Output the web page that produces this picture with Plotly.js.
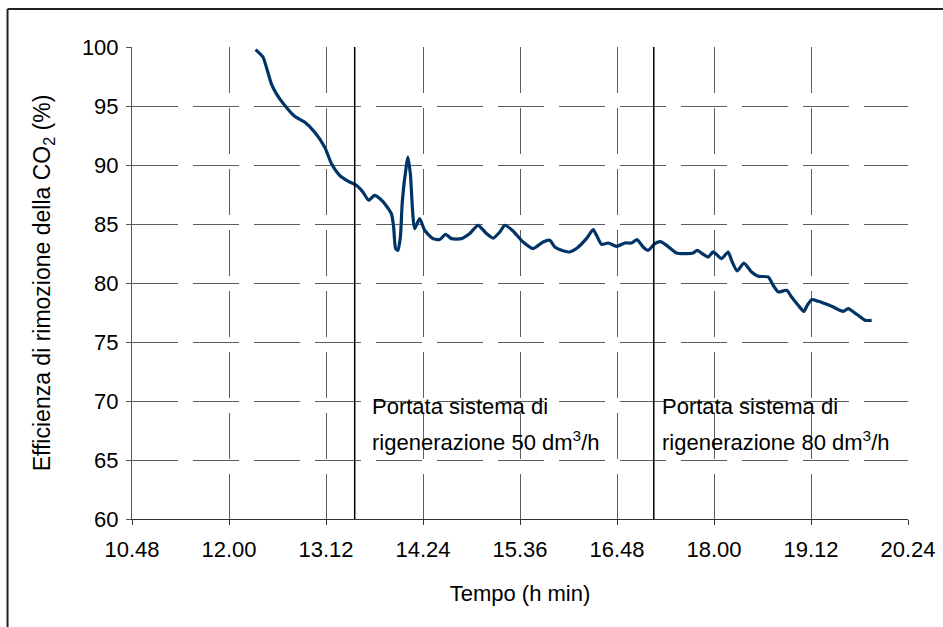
<!DOCTYPE html>
<html>
<head>
<meta charset="utf-8">
<script src="https://cdn.plot.ly/plotly-3.0.1.min.js"></script>
<style>
  html, body { margin: 0; padding: 0; background: #ffffff; }
  #chart { width: 943px; height: 627px; }
</style>
</head>
<body>
<div id="chart"></div>
<script>
// ---- data (time in minutes since midnight, efficiency in %) ----
const timeMin = [
  739.7, 745.2, 748.4, 751.4, 755.1, 761.3, 768.7, 776.1, 783.5, 791.0,
  796.0, 802.1, 808.3, 814.5, 819.4, 823.7, 828.1, 834.3, 840.5, 842.2,
  843.7, 845.4, 847.2, 848.7, 851.7, 852.8, 854.6, 857.8, 861.5, 865.2,
  871.4, 876.4, 880.8, 885.1, 892.5, 898.7, 904.8, 911.1, 916.0, 921.0,
  924.7, 930.8, 938.3, 945.7, 953.1, 958.1, 961.8, 966.8, 972.9, 977.9,
  985.3, 990.3, 992.8, 996.5, 1001.4, 1007.6, 1013.8, 1018.8, 1022.9, 1027.4,
  1031.1, 1036.1, 1040.3, 1044.8, 1052.2, 1059.6, 1064.5, 1067.5, 1072.0, 1075.7,
  1079.4, 1085.6, 1090.5, 1093.0, 1097.2, 1102.2, 1107.9, 1112.8, 1120.2, 1123.9,
  1127.7, 1133.9, 1137.6, 1142.5, 1146.7, 1149.2, 1152.5, 1157.4, 1167.3, 1175.9,
  1179.6, 1185.9, 1192.1, 1197.0
];
const efficiency = [
  99.78, 99.15, 98.03, 96.90, 96.05, 95.06, 94.13, 93.64, 92.80, 91.53,
  90.12, 89.13, 88.64, 88.28, 87.71, 87.01, 87.43, 86.90, 85.88, 84.75,
  82.92, 82.77, 83.90, 87.01, 89.97, 90.68, 89.27, 84.61, 85.46, 84.47,
  83.76, 83.68, 84.13, 83.76, 83.76, 84.19, 84.89, 84.19, 83.81, 84.32,
  84.89, 84.41, 83.47, 82.92, 83.47, 83.62, 83.05, 82.77, 82.63, 82.92,
  83.76, 84.53, 84.04, 83.28, 83.39, 83.11, 83.39, 83.39, 83.68, 83.05,
  82.77, 83.34, 83.51, 83.19, 82.54, 82.49, 82.54, 82.77, 82.43, 82.20,
  82.63, 82.07, 82.63, 81.92, 81.02, 81.69, 80.93, 80.57, 80.51, 79.81,
  79.24, 79.38, 78.81, 78.11, 77.60, 78.11, 78.59, 78.45, 78.03, 77.60,
  77.83, 77.35, 76.84, 76.84
];
// instants (minutes) where the regeneration flow was changed
const regimeChanges = [813.3, 1035.3];
const regimeLine1 = ["Portata sistema di", "Portata sistema di"];
const regimeLine2 = ["rigenerazione 50 dm<sup>3</sup>/h", "rigenerazione 80 dm<sup>3</sup>/h"];
const xTickLabels = ["10.48", "12.00", "13.12", "14.24", "15.36", "16.48", "18.00", "19.12", "20.24"];
const yTickValues = [60, 65, 70, 75, 80, 85, 90, 95, 100];
const xTitle = "Tempo (h min)";
const yTitle = "Efficienza di rimozione della CO<sub>2</sub> (%)";

// ---- derived ----
const xTickVals = xTickLabels.map(s => { const p = s.split("."); return (+p[0]) * 60 + (+p[1]); });

const FONT = "Liberation Sans, Arial, Helvetica, sans-serif";
const GRID = "#5e5e5e";

const trace = {
  x: timeMin, y: efficiency, type: "scatter", mode: "lines",
  line: { color: "#003366", width: 3.2, shape: "spline", smoothing: 0.6 },
  hoverinfo: "skip"
};

const shapes = [];
const annotations = [];
const textShift = [17, 8];
const boxW = [250, 250];
regimeChanges.forEach((t, i) => {
  // white box behind the label (hides gridlines)
  shapes.push({
    type: "rect", layer: "between", xref: "x", yref: "paper",
    xsizemode: "pixel", xanchor: t, x0: textShift[i] - 7, x1: textShift[i] - 7 + boxW[i],
    y0: 0.105, y1: 0.278, fillcolor: "#ffffff", line: { width: 0 }
  });
  // vertical marker line
  shapes.push({
    type: "line", layer: "above", xref: "x", yref: "paper",
    x0: t, x1: t, y0: 0, y1: 1, line: { color: "#000000", width: 1.5 }
  });
  annotations.push({
    xref: "x", yref: "y", x: t, y: 69.5, xshift: textShift[i] - 2, xanchor: "left", yanchor: "middle",
    text: regimeLine1[i], showarrow: false, align: "left",
    font: { family: FONT, size: 22, color: "#000000" }
  });
  annotations.push({
    xref: "x", yref: "y", x: t, y: 66.65, xshift: textShift[i] - 2, xanchor: "left", yanchor: "middle",
    text: regimeLine2[i], showarrow: false, align: "left",
    font: { family: FONT, size: 22, color: "#000000" }
  });
});

// outer frame (left and top edges visible in the reference crop)
shapes.push({ type: "line", xref: "paper", yref: "paper", x0: -0.1604, x1: -0.1604, y0: 1.0805, y1: -0.3,
  line: { color: "#222222", width: 2 } });
shapes.push({ type: "line", xref: "paper", yref: "paper", x0: -0.1604, x1: 1.2, y0: 1.0805, y1: 1.0805,
  line: { color: "#222222", width: 2 } });

const layout = {
  width: 943, height: 627,
  margin: { l: 132, r: 35, t: 47, b: 108 },
  paper_bgcolor: "#ffffff", plot_bgcolor: "#ffffff",
  showlegend: false,
  font: { family: FONT, size: 22, color: "#000000" },
  xaxis: {
    range: [xTickVals[0], xTickVals[xTickVals.length - 1]],
    tickmode: "array", tickvals: xTickVals, ticktext: xTickLabels,
    showgrid: true, gridcolor: GRID, gridwidth: 1, griddash: "46px,15px",
    showline: true, linecolor: "#333333", linewidth: 1,
    ticks: "outside", ticklen: 5, tickcolor: "#333333",
    ticklabelstandoff: 6,
    zeroline: false,
    tickfont: { family: FONT, size: 22, color: "#000000" },
    title: { text: xTitle, font: { family: FONT, size: 22, color: "#000000" }, standoff: 24 }
  },
  yaxis: {
    range: [60, 100],
    tickmode: "array", tickvals: yTickValues, ticktext: yTickValues.map(String),
    showgrid: true, gridcolor: GRID, gridwidth: 1, griddash: "46px,15px",
    showline: true, linecolor: "#555555", linewidth: 1,
    ticks: "outside", ticklen: 5, tickcolor: "#555555",
    ticklabelstandoff: 3,
    zeroline: false,
    tickfont: { family: FONT, size: 22, color: "#000000" },
    title: { text: yTitle, font: { family: FONT, size: 23, color: "#000000" }, standoff: 24 }
  },
  shapes: shapes,
  annotations: annotations
};

Plotly.newPlot("chart", [trace], layout, { staticPlot: true, displayModeBar: false });
</script>
</body>
</html>
